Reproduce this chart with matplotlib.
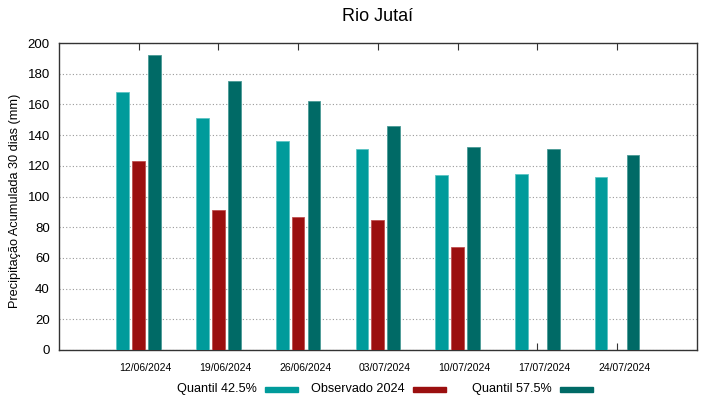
import numpy as np
import matplotlib
matplotlib.use("Agg")
import matplotlib.pyplot as plt
from matplotlib.patches import Rectangle

plt.rcParams['font.family'] = ['Liberation Sans', 'DejaVu Sans']

datas = ['12/06/2024', '19/06/2024', '26/06/2024', '03/07/2024',
         '10/07/2024', '17/07/2024', '24/07/2024']
q425 = [168, 151, 136, 131, 114, 114.5, 112.5]
obs = [123, 91, 86.5, 84.5, 67, np.nan, np.nan]
q575 = [192, 175.5, 162.5, 146, 132, 131, 127]
labels = ['Quantil 42.5%', 'Observado 2024', 'Quantil 57.5%']

c_q425 = '#009b9b'
c_obs = '#9b0f0f'
c_q575 = '#006a66'

W, H = 719, 399
fig = plt.figure(figsize=(W / 100, H / 100), dpi=100)
ax = fig.add_axes([0.082, 0.123, 0.887, 0.769])

x = np.arange(len(datas))
w = 0.16
ax.bar(x - 0.2, q425, w, color=c_q425, edgecolor='#5cc4c4', linewidth=0.6, zorder=3)
ax.bar(x, obs, w, color=c_obs, edgecolor='#c05050', linewidth=0.6, zorder=3)
ax.bar(x + 0.2, q575, w, color=c_q575, edgecolor='#4a9a96', linewidth=0.6, zorder=3)

ax.set_xlim(-1, 7)
ax.set_ylim(0, 200)
ax.set_yticks(range(0, 201, 20))
# marcas nas datas; rotulos um pouco a direita (como no gnuplot)
ax.set_xticks(x)
ax.set_xticklabels([])
ax.set_xticks(x + 0.088, minor=True)
ax.set_xticklabels(datas, minor=True, fontsize=7.5)
ax.tick_params(axis='x', which='major', direction='in', top=True, length=5, color='#333333')
ax.tick_params(axis='x', which='minor', length=0, pad=9.5)
ax.tick_params(axis='y', direction='in', length=0, labelsize=9.5, pad=6.5)
ax.yaxis.grid(True, linestyle=(0, (1, 2)), color='#999999', linewidth=0.8, zorder=0)
for s in ax.spines.values():
    s.set_color('#333333')
    s.set_linewidth(1.0)

ax.set_ylabel('Precipitação Acumulada 30 dias (mm)', fontsize=9.2)
ax.yaxis.set_label_coords(-0.06, 0.485)
ax.set_title('Rio Jutaí', fontsize=13, pad=16)

# legenda em colunas de largura fixa: texto alinhado a direita + amostra de cor
for i, (lab, c) in enumerate(zip(labels, (c_q425, c_obs, c_q575))):
    xr = 257 + 147.5 * i
    fig.text(xr / W, 1 - 389 / H, lab, ha='right', va='center', fontsize=9.1)
    fig.patches.append(Rectangle(((xr + 8) / W, 1 - 391.5 / H), 33 / W, 5 / H,
                                 transform=fig.transFigure, color=c))

fig.savefig('out.png', dpi=100)
